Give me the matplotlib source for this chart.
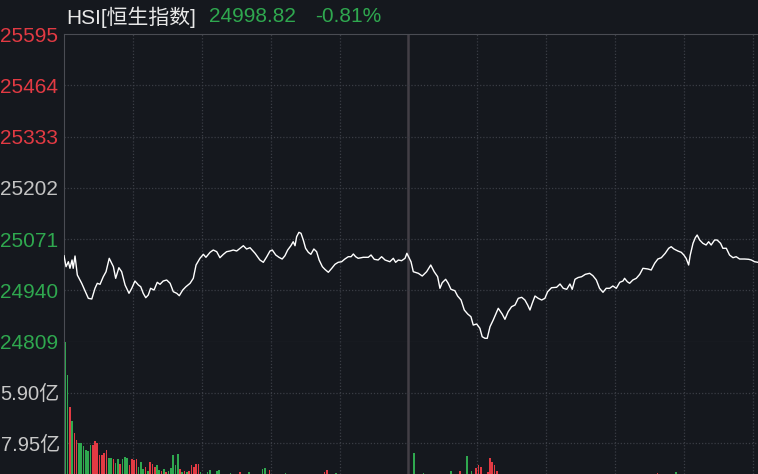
import matplotlib
matplotlib.use("Agg")
import matplotlib.pyplot as plt

plt.rcParams['font.family'] = ['Liberation Sans', 'Noto Sans CJK SC', 'DejaVu Sans']

BG = '#15181e'
RED = '#e23a43'
GREEN = '#2fa84f'
GRID = '#3a3d45'
FRAME = '#4a4c53'

# intraday index line (minutes from open, index level)
minutes = [0, 0.9, 1.9, 2.6, 3.5, 4.0, 4.8, 5.8, 7.7, 9.6, 10.6, 12.1, 13.5, 14.5, 15.7,
           17.1, 18.3, 19.7, 20.8, 21.5, 22.5, 23.9, 25.1, 26.6, 28.3, 29.5, 30.9, 32.4,
           33.4, 34.5, 35.6, 36.7, 37.7, 39.2, 40.6, 41.8, 43.2, 44.7, 46.2, 47.6, 49.1,
           50.2, 51.7, 53.1, 54.9, 56.3, 57.5, 59.2, 60.7, 61.8, 63.6, 65.0, 66.5, 67.9,
           69.4, 70.8, 72.3, 73.7, 75.2, 78.1, 79.5, 81.0, 83.2, 85.3, 86.8, 88.3, 89.7,
           90.7, 92.2, 93.6, 95.0, 96.2, 97.4, 98.8, 99.8, 100.6, 101.3, 102.3, 103.2,
           104.2, 105.2, 106.4, 107.5, 108.8, 110.0, 111.1, 112.5, 113.6, 115.1, 116.6,
           118.0, 119.4, 120.9, 122.3, 123.8, 125.0, 126.0, 127.0, 128.1, 130.3, 132.5,
           133.7, 135.1, 136.8, 138.3, 139.8, 141.9, 143.4, 144.4, 145.6, 147.0, 148.5,
           149.3, 151.1, 152.1, 154.3, 156.0, 157.9, 159.7, 161.2, 162.7, 163.7, 164.7,
           166.2, 167.3, 168.5, 170.2, 171.4, 172.9, 174.3, 175.8, 177.2, 178.2, 179.7,
           181.1, 182.1, 183.3, 184.3, 185.5, 186.9, 189.1, 190.8, 192.0, 193.4, 194.9,
           196.4, 197.8, 199.3, 200.7, 201.9, 202.9, 203.9, 205.1, 206.5, 208.0, 209.4,
           210.6, 212.3, 214.5, 216.0, 217.4, 218.9, 220.3, 221.3, 222.5, 223.9, 225.4,
           227.0, 228.9, 230.3, 231.8, 233.2, 234.7, 236.1, 237.6, 239.0, 240.5, 242.0,
           243.4, 244.1, 245.3, 246.3, 247.7, 249.2, 250.7, 252.1, 254.3, 255.7, 257.2,
           258.6, 260.1, 261.8, 263.3, 264.4, 265.6, 267.3, 268.8, 269.9, 270.9, 272.0,
           272.7, 273.9, 274.9, 275.7, 276.8, 278.2, 279.6, 280.7, 281.8, 283.3, 284.4,
           285.9, 286.9, 288.4, 289.8, 291.3, 292.7, 294.2, 296.4, 298.1, 299.3, 300.7, 302.2]
prices = [25028.6, 25000.6, 25013.3, 24996.5, 25017.7, 24996.5, 25027.9, 24979.4, 24958.2,
          24932.6, 24919.8, 24918.1, 24945.4, 24958.2, 24955.6, 24975.0, 24987.8, 25022.0,
          25009.2, 25000.6, 24970.9, 24998.0, 24987.8, 24953.8, 24932.6, 24945.4, 24964.0,
          24953.8, 24949.5, 24932.6, 24921.4, 24928.3, 24945.4, 24941.0, 24960.7, 24955.6,
          24964.0, 24966.6, 24958.2, 24936.7, 24932.6, 24926.5, 24941.0, 24949.5, 24958.2,
          24970.9, 25004.9, 25022.0, 25032.2, 25024.6, 25037.3, 25043.2, 25038.9, 25023.6,
          25032.2, 25038.9, 25040.7, 25043.2, 25040.7, 25054.2, 25045.8, 25049.1, 25034.8,
          25017.7, 25011.8, 25026.1, 25040.7, 25043.2, 25030.5, 25024.6, 25020.2, 25028.6,
          25043.2, 25054.2, 25064.4, 25054.2, 25077.2, 25088.4, 25085.9, 25068.8, 25047.6,
          25037.3, 25032.2, 25045.8, 25038.9, 25017.7, 25000.6, 24993.9, 24986.3, 24996.5,
          25006.7, 25011.8, 25013.3, 25020.2, 25026.1, 25026.1, 25033.0, 25026.1, 25022.0,
          25024.6, 25024.6, 25030.5, 25019.5, 25017.7, 25026.1, 25017.7, 25013.3, 25022.0,
          25011.8, 25017.7, 25015.9, 25022.0, 25034.8, 25013.3, 24987.8, 24983.7, 24976.8,
          24987.8, 25004.9, 24987.8, 24975.0, 24945.4, 24959.7, 24968.4, 24958.2, 24942.8,
          24939.3, 24925.7, 24915.5, 24890.0, 24879.7, 24872.8, 24851.6, 24854.2, 24843.2,
          24821.7, 24817.7, 24817.7, 24847.3, 24864.4, 24894.3, 24879.7, 24866.2, 24885.6,
          24898.4, 24902.7, 24919.8, 24922.4, 24915.5, 24902.7, 24890.0, 24907.1, 24925.7,
          24919.8, 24915.5, 24919.8, 24936.7, 24946.9, 24948.0, 24956.4, 24945.4, 24942.8,
          24956.4, 24942.8, 24968.4, 24973.0, 24975.0, 24981.1, 24983.7, 24977.6, 24966.6,
          24945.4, 24935.2, 24945.4, 24945.4, 24951.3, 24945.4, 24960.7, 24964.0, 24970.9,
          24962.2, 24958.2, 24966.6, 24970.9, 24981.1, 24996.5, 24994.7, 24992.1, 25009.2,
          25020.2, 25023.6, 25034.8, 25047.6, 25051.7, 25045.8, 25040.7, 25037.3, 25030.5,
          25022.0, 25004.9, 25030.5, 25060.3, 25074.6, 25081.5, 25068.8, 25060.3, 25056.0,
          25064.4, 25056.0, 25068.8, 25068.8, 25060.3, 25047.6, 25047.6, 25030.5, 25023.6,
          25026.1, 25020.2, 25020.2, 25019.5, 25017.7, 25013.3, 25011.8]

price_ticks = [24809, 24940, 25071, 25202, 25333, 25464, 25595]
prev_close = 25202

# per-minute turnover (亿), 1 = up (red), 0 = down (green)
vol_minutes = [0, 1, 2, 3, 4, 5, 6, 7, 8, 9, 10, 11, 12, 13, 14, 15, 16, 17, 18, 19, 20,
               21, 22, 23, 24, 25, 26, 27, 28, 29, 30, 31, 32, 33, 34, 35, 36, 37, 38, 39,
               40, 41, 42, 43, 44, 45, 46, 47, 48, 49, 50, 51, 52, 53, 54, 55, 56, 57, 58,
               59, 62, 63, 66, 67, 72, 76, 80, 86, 87, 89, 96, 113, 114, 118,
               152, 156, 168, 172, 175, 177, 179, 180, 181, 184, 185, 186, 187, 188, 258, 266]
vol_values = [26.0, 18.7, 13.7, 11.5, 9.5, 8.5, 8.0, 7.9, 7.4, 6.9, 6.7, 7.6, 7.6, 8.2, 7.9,
              6.1, 6.0, 6.3, 6.8, 5.5, 5.6, 5.4, 4.8, 5.4, 4.6, 5.4, 5.8, 5.6, 4.4, 5.4, 5.2,
              5.4, 4.2, 5.0, 3.8, 4.1, 3.6, 5.0, 4.7, 4.2, 4.5, 3.7, 3.5, 3.9, 3.3, 3.6, 4.0,
              6.0, 4.4, 6.2, 3.8, 3.4, 3.6, 3.3, 3.5, 4.5, 4.2, 4.6, 4.6, 3.3, 3.4, 3.7, 3.6,
              3.7, 3.2, 3.3, 3.3, 3.9, 3.95, 3.7, 3.2, 3.3, 3.7, 3.2,
              6.3, 3.2, 3.6, 3.6, 5.9, 3.6, 4.0, 4.4, 4.2, 3.4, 5.5, 4.9, 4.4, 3.5, 3.2, 3.3]
vol_up = [0, 0, 1, 0, 1, 1, 0, 0, 0, 0, 0, 0, 1, 1, 1, 1, 1, 1, 1, 0, 0,
          1, 0, 0, 1, 0, 0, 0, 1, 1, 1, 1, 0, 0, 0, 1, 0, 1, 1, 1,
          0, 0, 1, 0, 1, 0, 0, 0, 0, 0, 1, 0, 1, 0, 1, 1, 1, 1, 1,
          0, 0, 0, 0, 0, 0, 1, 0, 0, 0, 1, 0, 1, 1, 0,
          0, 0, 0, 1, 0, 0, 1, 1, 1, 1, 1, 1, 1, 1, 1, 0]
vol_ticks = [7.95, 15.90]
vol_tick_labels = ['7.95亿', '5.90亿']

title_name = 'HSI[恒生指数]'
last_price = '24998.82'
change_pct = '-0.81%'

W, H = 758, 474
left = 64 / W
split = 341.7
fig = plt.figure(figsize=(W / 100, H / 100), dpi=100, facecolor=BG)
ax = fig.add_axes([left, 1 - split / H, 1 - left, (split - 34) / H])
axv = fig.add_axes([left, 0, 1 - left, (H - split) / H], sharex=ax)

xmax = 302.2
for a in (ax, axv):
    a.set_facecolor(BG)
    a.set_xlim(0, xmax)
    for s in a.spines.values():
        s.set_visible(False)
    a.spines['left'].set_visible(True)
    a.spines['left'].set_color(FRAME)
    a.tick_params(axis='x', bottom=False, labelbottom=False)
    a.tick_params(axis='y', length=0, pad=4.2, labelsize=15)
    for xv in range(30, 301, 30):
        if xv == 150:
            a.axvline(xv, color='#433f46', lw=1.8, zorder=1)
        else:
            a.axvline(xv, color=GRID, lw=0.9, ls=(0, (1, 1.5)), zorder=1)

# price panel
ax.spines['top'].set_visible(True)
ax.spines['top'].set_color(FRAME)
ax.spines['bottom'].set_visible(True)
ax.spines['bottom'].set_color(FRAME)
ax.set_ylim(price_ticks[0], price_ticks[-1])
ax.set_yticks(price_ticks, [str(p) for p in price_ticks])
for p in price_ticks[1:-1]:
    ax.axhline(p, color=GRID, lw=0.9, ls=(0, (1, 1.5)), zorder=1)
for lab, p in zip(ax.get_yticklabels(), price_ticks):
    if p > prev_close:
        lab.set_color(RED)
    elif p < prev_close:
        lab.set_color(GREEN)
    else:
        lab.set_color('#c4c4c4')
ax.plot(minutes, prices, color='white', lw=1.0, zorder=3)

# volume panel
axv.set_ylim(3.05, 23.96)
axv.set_yticks(vol_ticks, vol_tick_labels)
axv.tick_params(axis='y', labelsize=14.5, pad=3)
for lab in axv.get_yticklabels():
    lab.set_color('#c8c8c8')
for v in vol_ticks:
    axv.axhline(v, color=GRID, lw=0.9, ls=(0, (1, 1.5)), zorder=1)
colors = [RED if u else GREEN for u in vol_up]
axv.bar([m + 0.5 for m in vol_minutes], vol_values, width=0.72, color=colors,
        linewidth=0, zorder=2)

# header
ty = 1 - 17 / H
fig.text(66 / W, ty, title_name, color='#e8e8e8', fontsize=15, va='center')
fig.text(209 / W, ty, last_price, color=GREEN, fontsize=15, va='center')
fig.text(315 / W, ty, change_pct, color=GREEN, fontsize=15, va='center')

fig.savefig('out.png', dpi=100, facecolor=BG)
